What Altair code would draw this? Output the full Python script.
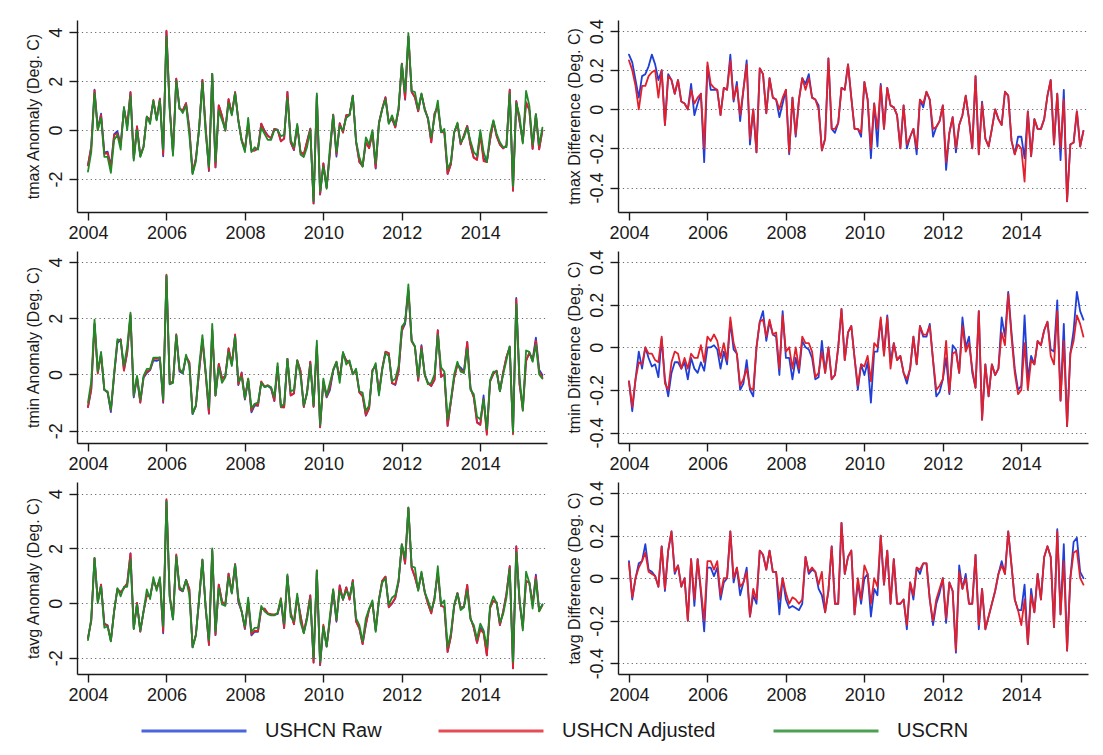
import altair as alt
import pandas as pd

# Monthly series, January 2004 through August 2015 (140 months)
START_YEAR = 2004

# USCRN monthly anomalies (deg C)
tmax_uscrn = [
    -1.7, -0.9, 1.5, 0.0, 0.5, -1.1, -1.1, -1.75, -0.4, -0.2,
    -0.8, 0.95, 0.0, 1.4, -1.25, 0.0, -1.1, -0.7, 0.55, 0.25,
    1.2, 0.4, 1.2, -0.8, 3.82, 0.8, -1.05, 2.0, 0.9, 0.7,
    1.0, -0.2, -1.8, -1.3, 0.1, 1.95, -0.15, -1.5, 2.3, -1.3,
    0.8, 0.4, 0.0, 1.1, 0.6, 1.5, 0.4, -0.45, -0.9, 0.5,
    -0.9, -0.7, -0.8, 0.1, -0.15, -0.4, -0.4, 0.0, 0.0, -0.25,
    -0.2, 1.3, -0.4, -0.7, 0.25, -1.0, -1.1, -0.7, 0.0, -2.9,
    1.5, -2.5, -1.5, -2.4, -0.7, 0.6, -0.9, 0.15, 0.0, 0.5,
    0.6, 1.4, -0.45, -1.1, -1.5, -0.3, -0.6, 0.0, -1.35, 0.25,
    0.85, 1.25, 0.25, 0.6, 0.2, 0.9, 2.7, 1.55, 3.95, 1.6,
    1.55, 0.85, 1.5, 0.8, 0.5, -0.3, 0.5, 1.2, -0.1, 0.05,
    -1.6, -1.3, -0.1, 0.3, -0.5, -0.3, 0.1, -0.45, -0.9, -1.05,
    0.0, -0.9, -1.3, -0.15, 0.4, -0.15, -0.5, -0.7, -0.7, 1.5,
    -2.3, 1.1, 0.6, -0.55, 1.6, 1.0, -0.6, 0.65, -0.6, 0.1,
]
tmin_uscrn = [
    -1.0, -0.25, 1.95, 0.1, 0.8, -0.55, -0.6, -1.25, 0.05, 1.25,
    1.2, 0.3, 1.0, 2.2, -0.75, -0.05, -0.9, -0.05, 0.2, 0.2,
    0.6, 0.6, 0.6, -0.9, 3.5, -0.35, -0.3, 1.4, 0.2, 0.05,
    0.7, 0.3, -1.4, -1.1, 0.3, 1.4, 0.1, -1.2, 1.8, -0.75,
    0.25, -0.3, -0.1, 0.8, 0.3, 1.35, -0.25, -0.1, -0.85, -0.15,
    -1.2, -1.05, -1.0, -0.3, -0.45, -0.4, -0.45, -0.8, 0.4, -1.15,
    -1.05, 0.55, -0.6, -0.55, 0.5, -0.05, -1.1, -0.7, 0.35, -1.1,
    1.2, -1.8, -0.15, -0.75, -0.3, 0.15, 0.45, -0.3, 0.8, 0.35,
    0.5, 0.0, 0.2, -0.6, -0.65, -1.3, -1.1, 0.1, 0.4, -0.75,
    0.15, 0.75, 0.65, -0.25, -0.15, 0.3, 1.7, 1.85, 3.2, 1.2,
    1.0, -0.1, 0.9, 0.0, -0.35, -0.3, 0.0, 1.4, 0.25, 0.1,
    -1.6, -0.9, 0.0, 0.45, 0.1, 0.05, 0.9, -0.55, -0.7, -1.5,
    -1.6, -0.9, -1.95, -0.2, 0.1, 0.1, -0.6, 0.0, 0.5, 1.0,
    -2.05, 2.5, -0.1, -1.3, 0.85, 0.8, 0.45, 1.05, 0.0, -0.15,
]
tavg_uscrn = [
    -1.35, -0.55, 1.65, 0.0, 0.6, -0.9, -0.85, -1.4, -0.3, 0.55,
    0.25, 0.6, 0.6, 1.6, -0.95, -0.05, -1.0, -0.3, 0.5, 0.15,
    0.95, 0.45, 0.95, -0.85, 3.72, 0.2, -0.6, 1.7, 0.6, 0.45,
    0.85, 0.3, -1.6, -1.2, 0.2, 1.6, -0.2, -1.35, 2.0, -1.05,
    0.55, -0.05, -0.1, 0.95, 0.35, 1.4, 0.2, -0.3, -0.85, 0.2,
    -1.05, -0.9, -0.9, -0.1, -0.3, -0.4, -0.45, -0.45, -0.35, 0.15,
    -0.75, 1.05, -0.5, -0.65, 0.35, -0.7, -1.1, -0.6, 0.15, -2.0,
    1.2, -2.15, -0.85, -1.6, -0.45, 0.5, -0.6, 0.45, 0.15, 0.45,
    0.25, 0.75, -0.55, -0.8, -1.4, -0.55, -0.2, 0.1, -1.05, 0.1,
    0.75, 0.9, -0.05, 0.2, 0.3, 0.85, 2.15, 1.65, 3.5, 1.35,
    1.3, 0.45, 1.15, 0.4, 0.1, -0.25, 0.1, 1.35, -0.05, 0.1,
    -1.6, -1.1, -0.05, 0.35, -0.25, -0.15, 0.45, -0.6, -0.8, -1.3,
    -0.75, -1.0, -1.6, -0.1, 0.25, 0.0, -0.7, -0.4, 0.2, 1.25,
    -2.15, 1.85, 0.2, -1.0, 1.15, 0.75, -0.2, 0.85, -0.3, -0.05,
]

# USHCN minus USCRN (deg C)
tmax_raw_diff = [
    0.28, 0.24, 0.15, 0.06, 0.17, 0.18, 0.22, 0.28, 0.23, 0.15,
    0.2, -0.08, 0.18, 0.15, 0.08, 0.15, 0.04, 0.03, 0.0, 0.13,
    -0.03, 0.03, 0.08, -0.27, 0.22, 0.1, 0.1, 0.1, -0.03, 0.11,
    0.1, 0.28, 0.04, 0.14, -0.06, 0.1, 0.25, -0.18, 0.0, -0.22,
    0.21, 0.18, -0.02, 0.16, 0.06, 0.05, -0.04, 0.03, 0.1, -0.23,
    0.06, -0.14, 0.05, 0.16, 0.13, 0.18, 0.06, 0.05, 0.02, -0.21,
    -0.15, 0.26, -0.1, -0.12, -0.07, 0.11, 0.1, 0.23, 0.06, -0.1,
    -0.1, -0.14, 0.14, 0.05, -0.25, 0.03, -0.19, 0.13, -0.1, 0.11,
    0.02, 0.01, -0.03, -0.2, 0.02, -0.2, -0.14, -0.1, -0.23, 0.05,
    0.01, 0.09, 0.05, -0.14, -0.09, -0.06, 0.02, -0.31, -0.12, -0.04,
    -0.22, -0.08, -0.03, 0.07, -0.05, -0.2, 0.17, -0.23, 0.04, -0.15,
    -0.19, -0.1, 0.0, -0.05, -0.08, 0.09, 0.07, -0.16, -0.23, -0.14,
    -0.14, -0.25, -0.01, -0.24, -0.05, -0.1, -0.1, -0.05, 0.07, 0.15,
    -0.18, 0.08, -0.26, 0.1, -0.47, -0.18, -0.17, -0.01, -0.19, -0.11,
]
tmax_adj_diff = [
    0.25, 0.2, 0.12, 0.0, 0.12, 0.12, 0.17, 0.19, 0.2, 0.06,
    0.2, -0.08, 0.17, 0.15, 0.08, 0.15, 0.04, 0.03, 0.0, 0.1,
    0.03, 0.06, 0.08, -0.2, 0.24, 0.13, 0.11, 0.1, -0.03, 0.11,
    0.1, 0.25, 0.05, 0.12, -0.03, 0.1, 0.23, -0.15, 0.0, -0.22,
    0.21, 0.18, -0.02, 0.16, 0.06, 0.05, 0.0, 0.06, 0.1, -0.22,
    0.06, -0.13, 0.05, 0.16, 0.1, 0.16, 0.06, 0.05, 0.0, -0.21,
    -0.15, 0.26, -0.1, -0.1, -0.07, 0.11, 0.1, 0.23, 0.06, -0.1,
    -0.1, -0.12, 0.14, 0.05, -0.2, 0.03, -0.1, 0.12, -0.1, 0.11,
    0.02, 0.01, -0.03, -0.2, 0.02, -0.18, -0.14, -0.1, -0.2, 0.05,
    0.03, 0.09, 0.05, -0.1, -0.09, -0.06, 0.02, -0.27, -0.12, -0.04,
    -0.2, -0.08, -0.03, 0.07, -0.05, -0.2, 0.17, -0.23, 0.03, -0.15,
    -0.19, -0.1, 0.0, -0.05, -0.08, 0.09, 0.07, -0.16, -0.23, -0.18,
    -0.2, -0.37, -0.01, -0.24, -0.05, -0.1, -0.1, -0.05, 0.07, 0.15,
    -0.18, 0.08, -0.2, 0.05, -0.47, -0.18, -0.17, -0.01, -0.19, -0.11,
]
tmin_raw_diff = [
    -0.16, -0.3, -0.15, -0.02, -0.1, 0.0, -0.05, -0.09, -0.08, -0.14,
    0.04, -0.15, -0.23, -0.12, -0.07, -0.07, -0.1, -0.07, -0.15, -0.05,
    -0.1, -0.12, -0.07, -0.11, 0.0, 0.0, 0.01, -0.01, -0.1, -0.02,
    -0.08, 0.12, -0.01, -0.03, -0.2, -0.17, -0.06, -0.2, -0.23, 0.0,
    0.12, 0.17, 0.03, 0.12, 0.06, 0.05, -0.13, 0.17, -0.05, -0.05,
    -0.15, -0.05, -0.12, 0.03, 0.0, -0.01, -0.05, -0.15, -0.14, 0.03,
    -0.12, 0.0, -0.15, -0.13, 0.0, 0.18, -0.06, 0.07, 0.1, -0.05,
    -0.2, -0.08, -0.13, -0.07, -0.26, -0.02, -0.02, 0.13, -0.03, 0.15,
    -0.07, 0.02, -0.06, -0.04, -0.12, -0.17, -0.1, 0.05, -0.08, 0.1,
    0.05, 0.05, 0.11, -0.06, -0.23, -0.21, -0.15, -0.05, -0.22, 0.01,
    -0.01, -0.12, 0.14, 0.0, 0.05, -0.12, -0.19, 0.17, -0.34, -0.08,
    -0.23, -0.08, -0.13, -0.1, 0.14, 0.05, 0.26, 0.07, -0.1, -0.2,
    -0.18, 0.15, -0.15, -0.04, -0.08, 0.03, 0.01, 0.08, 0.12, -0.01,
    -0.02, 0.22, -0.25, 0.11, -0.37, -0.03, 0.08, 0.26, 0.17, 0.13,
]
tmin_adj_diff = [
    -0.16, -0.28, -0.15, -0.07, -0.08, 0.0, -0.03, -0.03, -0.06, -0.07,
    0.05, -0.17, -0.2, -0.07, -0.02, -0.03, -0.1, -0.05, -0.1, -0.03,
    -0.05, -0.05, 0.01, -0.07, 0.05, 0.03, 0.06, 0.03, -0.05, 0.02,
    -0.06, 0.14, 0.02, -0.03, -0.18, -0.15, -0.1, -0.19, -0.2, 0.0,
    0.12, 0.13, 0.05, 0.13, 0.06, 0.07, -0.1, 0.15, -0.02, 0.0,
    -0.1, 0.0, -0.1, 0.05, 0.02, 0.02, -0.02, -0.14, -0.12, -0.02,
    -0.12, 0.0, -0.15, -0.13, 0.0, 0.18, -0.06, 0.07, 0.1, -0.05,
    -0.18, -0.08, -0.09, -0.04, -0.16, 0.02, 0.0, 0.14, -0.04, 0.14,
    -0.1, 0.02, -0.06, -0.04, -0.12, -0.15, -0.1, 0.05, -0.08, 0.1,
    0.06, 0.06, 0.1, -0.06, -0.2, -0.18, -0.15, 0.03, -0.21, -0.03,
    -0.02, -0.12, 0.1, -0.02, 0.02, -0.1, -0.19, 0.17, -0.34, -0.08,
    -0.23, -0.08, -0.13, -0.1, 0.07, 0.01, 0.25, 0.05, -0.12, -0.22,
    -0.2, 0.02, -0.2, -0.06, -0.08, 0.03, 0.01, 0.08, 0.12, -0.04,
    -0.08, 0.17, -0.25, 0.03, -0.37, -0.03, 0.03, 0.15, 0.11, 0.05,
]
tavg_raw_diff = [
    0.08, -0.1, 0.0, 0.07, 0.08, 0.16, 0.04, 0.03, 0.01, -0.04,
    0.15, -0.06, 0.13, 0.22, 0.02, 0.06, -0.04, 0.0, -0.2, 0.09,
    -0.13, 0.09, -0.07, -0.25, 0.05, 0.05, 0.01, 0.05, -0.1, -0.02,
    0.0, 0.22, -0.02, 0.05, -0.08, -0.02, 0.05, -0.18, -0.08, -0.12,
    0.13, 0.11, 0.04, 0.13, 0.03, 0.03, -0.17, 0.0, -0.1, -0.14,
    -0.13, -0.14, -0.15, -0.12, 0.1, 0.02, 0.04, 0.03, -0.05, -0.08,
    -0.16, -0.06, 0.15, -0.12, -0.12, 0.26, 0.02, 0.1, 0.13, -0.17,
    -0.02, -0.12, 0.0, 0.02, -0.18, -0.05, -0.08, 0.2, -0.03, 0.13,
    -0.12, 0.09, -0.12, -0.12, -0.1, -0.24, -0.02, -0.1, 0.05, 0.02,
    0.07, 0.07, -0.1, -0.22, -0.12, -0.07, 0.0, -0.21, -0.02, -0.06,
    -0.35, 0.06, -0.05, 0.02, -0.12, -0.12, 0.11, -0.24, -0.05, -0.24,
    -0.18, -0.12, -0.06, 0.02, 0.08, 0.02, 0.22, 0.06, -0.1, -0.15,
    -0.15, -0.03, -0.31, -0.05, -0.16, 0.02, -0.1, 0.1, 0.15, 0.1,
    -0.23, 0.23, -0.17, 0.16, -0.34, 0.0, 0.17, 0.19, 0.03, 0.0,
]
tavg_adj_diff = [
    0.07, -0.09, 0.0, 0.05, 0.08, 0.12, 0.03, 0.02, 0.01, -0.04,
    0.15, -0.05, 0.13, 0.22, 0.03, 0.06, -0.04, 0.0, -0.2, 0.09,
    -0.1, 0.09, -0.05, -0.2, 0.08, 0.08, 0.04, 0.08, -0.08, 0.0,
    0.0, 0.22, 0.0, 0.05, -0.04, -0.02, 0.03, -0.18, -0.05, -0.1,
    0.13, 0.11, 0.04, 0.13, 0.03, 0.03, -0.1, 0.0, -0.07, -0.12,
    -0.09, -0.1, -0.12, -0.1, 0.1, 0.03, 0.05, 0.03, -0.03, 0.03,
    -0.16, -0.06, 0.15, -0.12, -0.12, 0.26, 0.02, 0.1, 0.13, -0.17,
    0.0, -0.1, 0.06, 0.02, -0.12, 0.0, -0.04, 0.2, -0.03, 0.13,
    -0.12, 0.09, -0.12, -0.12, -0.1, -0.22, -0.02, -0.08, 0.05, 0.04,
    0.07, 0.07, -0.1, -0.2, -0.1, -0.05, 0.0, -0.19, -0.02, -0.06,
    -0.34, 0.03, -0.05, 0.0, -0.12, -0.12, 0.11, -0.22, -0.05, -0.24,
    -0.18, -0.12, -0.06, 0.02, 0.06, 0.02, 0.22, 0.06, -0.1, -0.15,
    -0.22, -0.1, -0.31, -0.08, -0.16, 0.02, -0.1, 0.1, 0.15, 0.1,
    -0.23, 0.22, -0.17, 0.08, -0.34, 0.0, 0.12, 0.13, 0.0, -0.03,
]

SERIES = ["USHCN Raw", "USHCN Adjusted", "USCRN"]
COLORS = ["#1f3fd8", "#e2202c", "#1f8a26"]
YEAR_TICKS = [2004, 2006, 2008, 2010, 2012, 2014]
X_DOMAIN = [2003.72, 2015.7]
ANOM_TICKS = [-2, 0, 2, 4]
DIFF_TICKS = [-0.4, -0.2, 0, 0.2, 0.4]
FONT = "Liberation Sans"

PANEL_W = 470
PANEL_H = 192

color_scale = alt.Scale(domain=SERIES, range=COLORS)

# Legend keys are drawn as a long horizontal stroke; the path is scaled by
# sqrt(symbolSize)/2, so "M-3,0L3,0" at size 35^2 gives a 105 px line while the
# entry itself stays only 35 px tall.
legend = alt.Legend(
    title=None,
    orient="none",
    legendX=98,
    legendY=692,
    direction="horizontal",
    symbolType="M-3,0L3,0",
    symbolSize=1225,
    symbolStrokeWidth=3,
    symbolOpacity=0.8,
    labelFontSize=20,
    labelFont=FONT,
    labelColor="#1a1a1a",
    labelOffset=52,
    columnPadding=50,
)


def frame(values, name):
    years = [START_YEAR + i / 12 for i in range(len(values))]
    return pd.DataFrame({"year": years, "value": values, "series": name})


def panel(frames, y_title, y_domain, y_ticks):
    layers = []
    for df in frames:
        layers.append(
            alt.Chart(df)
            .mark_line(strokeWidth=1.8, strokeJoin="round", strokeCap="round")
            .encode(
                x=alt.X(
                    "year:Q",
                    scale=alt.Scale(domain=X_DOMAIN, nice=False, zero=False),
                    axis=alt.Axis(values=YEAR_TICKS, format="d", title=None, grid=False),
                ),
                y=alt.Y(
                    "value:Q",
                    scale=alt.Scale(domain=y_domain, nice=False, zero=False),
                    axis=alt.Axis(
                        values=y_ticks,
                        title=y_title,
                        grid=True,
                        labelExpr="datum.value + ''",
                    ),
                ),
                color=alt.Color("series:N", scale=color_scale, legend=legend),
            )
        )
    return alt.layer(*layers).properties(width=PANEL_W, height=PANEL_H)


def anomaly_panel(uscrn, raw_diff, adj_diff, label, y_domain):
    raw = [round(a + d, 3) for a, d in zip(uscrn, raw_diff)]
    adj = [round(a + d, 3) for a, d in zip(uscrn, adj_diff)]
    frames = [frame(raw, SERIES[0]), frame(adj, SERIES[1]), frame(uscrn, SERIES[2])]
    return panel(frames, f"{label} Anomaly (Deg. C)", y_domain, ANOM_TICKS)


def difference_panel(raw_diff, adj_diff, label, y_domain):
    frames = [frame(raw_diff, SERIES[0]), frame(adj_diff, SERIES[1])]
    return panel(frames, f"{label} Difference (Deg. C)", y_domain, DIFF_TICKS)


H_GAP = 17
rows = [
    alt.hconcat(
        anomaly_panel(tmax_uscrn, tmax_raw_diff, tmax_adj_diff, "tmax", [-3.35, 4.5]),
        difference_panel(tmax_raw_diff, tmax_adj_diff, "tmax", [-0.525, 0.457]),
        spacing=H_GAP,
    ),
    alt.hconcat(
        anomaly_panel(tmin_uscrn, tmin_raw_diff, tmin_adj_diff, "tmin", [-2.44, 4.39]),
        difference_panel(tmin_raw_diff, tmin_adj_diff, "tmin", [-0.449, 0.452]),
        spacing=H_GAP,
    ),
    alt.hconcat(
        anomaly_panel(tavg_uscrn, tavg_raw_diff, tavg_adj_diff, "tavg", [-2.59, 4.43]),
        difference_panel(tavg_raw_diff, tavg_adj_diff, "tavg", [-0.45, 0.452]),
        spacing=H_GAP,
    ),
]

chart = (
    alt.vconcat(*rows, spacing=6)
    .properties(padding={"left": 24, "top": 18, "right": 6, "bottom": 4}, background="white")
    .configure_view(stroke="transparent")
    .configure_axis(
        domainColor="#1a1a1a",
        domainWidth=1.4,
        tickColor="#1a1a1a",
        tickWidth=1.4,
        tickSize=8,
        labelColor="#1a1a1a",
        labelFont=FONT,
        labelFontSize=18,
        titleFont=FONT,
        titleFontSize=16,
        titleFontWeight="normal",
        titleColor="#1a1a1a",
        gridColor="#6a6a6a",
        gridWidth=1.2,
        gridDash=[1.2, 3.2],
    )
    .configure_axisX(labelPadding=4)
    .configure_axisY(
        labelAngle=270,
        labelAlign="center",
        labelBaseline="bottom",
        labelPadding=4,
        titlePadding=6,
        labelOverlap=False,
    )
)

chart.save("out.html", embed_options={"renderer": "svg", "actions": False})
